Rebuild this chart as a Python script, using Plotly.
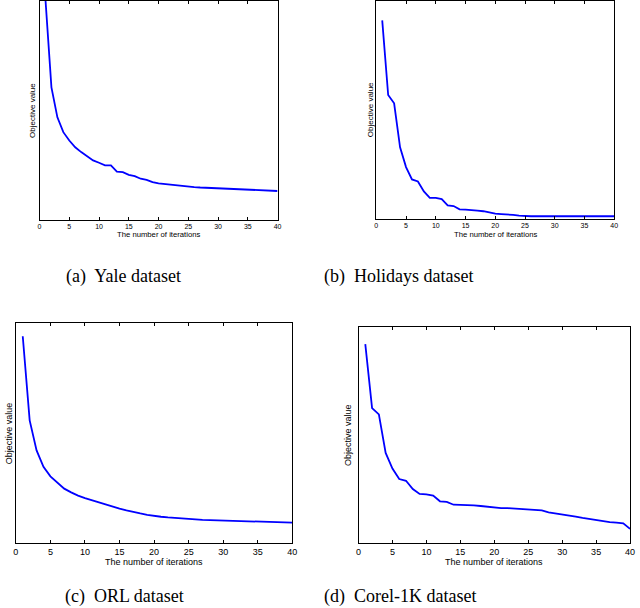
import plotly.graph_objects as go

iterations = list(range(1, 41))

yale_values = [100.5, 60.5, 46.8, 40.0, 36.2, 33.1, 30.9, 29.0, 27.1, 26.0,
               24.8, 24.8, 22.0, 21.7, 20.5, 19.9, 18.7, 18.2, 17.2, 16.6,
               16.3, 15.8, 15.5, 15.3, 15.0, 14.9, 14.7, 14.6, 14.4, 14.1,
               14.1, 14.0, 14.0, 13.8, 13.8, 13.7, 13.5, 13.4, 13.2, 13.1]

holidays_values = [91.1, 56.8, 53.0, 32.8, 23.7, 18.0, 17.1, 12.5, 9.6, 9.5,
                   9.0, 6.1, 5.8, 4.3, 4.1, 4.0, 3.7, 3.4, 2.7, 2.3,
                   2.1, 2.0, 1.7, 1.4, 1.1, 1.1, 1.1, 1.1, 1.1, 1.1,
                   1.1, 1.1, 1.1, 1.1, 1.1, 1.1, 1.1, 1.1, 1.1, 1.1]

orl_values = [94.2, 55.9, 42.2, 34.7, 30.4, 27.4, 24.8, 23.1, 21.6, 20.5,
              19.5, 18.5, 17.6, 16.7, 15.7, 14.9, 14.1, 13.5, 12.9, 12.3,
              12.0, 11.7, 11.4, 11.1, 10.9, 10.8, 10.6, 10.5, 10.5, 10.3,
              10.2, 10.2, 10.0, 10.0, 9.9, 9.9, 9.7, 9.6, 9.4, 9.3]

corel_values = [92.3, 62.6, 59.7, 41.8, 34.6, 29.7, 28.9, 25.1, 22.8, 22.6,
                22.0, 19.4, 19.1, 17.8, 17.7, 17.7, 17.5, 17.2, 16.9, 16.3,
                16.2, 16.2, 16.0, 15.8, 15.5, 15.4, 15.2, 14.3, 13.8, 13.5,
                13.1, 12.3, 11.7, 11.2, 10.6, 10.2, 9.7, 9.5, 9.2, 6.6]

x_ticks = [0, 5, 10, 15, 20, 25, 30, 35, 40]
captions = ["(a)  Yale dataset", "(b)  Holidays dataset",
            "(c)  ORL dataset", "(d)  Corel-1K dataset"]
x_title = "The number of iterations"
y_title = "Objective value"

W, H = 640, 608
# panel boxes in pixels: left, right, top, bottom
boxes = [(37, 278, 0, 219), (378, 619, 0, 218), (13, 293, 323, 543), (360, 635, 327, 543)]
series = [yale_values, holidays_values, orl_values, corel_values]
tick_sizes = [7, 7, 9, 9]
title_sizes = [7.7, 7.7, 9, 9]
ytitle_sizes = [8, 8, 9, 9]
cap_pos = [(122, 276), (401, 276), (123, 596), (402, 596)]
ytitle_x = [30, 372, 6, 350]
xtitle_gap = [15, 16, 19, 19]

fig = go.Figure()
annotations = []
for i, (vals, box) in enumerate(zip(series, boxes)):
    l, r, t, b = box
    sfx = "" if i == 0 else str(i + 1)
    fig.add_trace(go.Scatter(x=iterations, y=vals, mode="lines",
                             line=dict(color="#0000ff", width=1.8),
                             xaxis="x" + sfx, yaxis="y" + sfx, showlegend=False))
    fig.layout["xaxis" + sfx] = dict(
        domain=[l / W, r / W], anchor="y" + sfx, range=[0, 40],
        tickvals=x_ticks, ticks="inside", ticklen=3, tickcolor="black",
        showline=True, linecolor="black", linewidth=1, mirror="ticks",
        showgrid=False, zeroline=False,
        tickfont=dict(family="Liberation Sans", size=tick_sizes[i], color="black"),
    )
    fig.layout["yaxis" + sfx] = dict(
        domain=[1 - b / H, 1 - t / H], anchor="x" + sfx, range=[0, 100],
        showticklabels=False, ticks="", showline=True, linecolor="black",
        linewidth=1, mirror=True, showgrid=False, zeroline=False,
    )
    annotations.append(dict(text=x_title, xref="paper", yref="paper",
                            x=(l + r) / 2 / W, y=1 - (b + xtitle_gap[i]) / H,
                            showarrow=False, xanchor="center", yanchor="middle",
                            font=dict(family="Liberation Sans", size=title_sizes[i], color="black")))
    annotations.append(dict(text=y_title, xref="paper", yref="paper",
                            x=ytitle_x[i] / W, y=1 - (t + b) / 2 / H, textangle=-90,
                            showarrow=False, xanchor="center", yanchor="middle",
                            font=dict(family="Liberation Sans", size=ytitle_sizes[i], color="black")))
    cx, cy = cap_pos[i]
    annotations.append(dict(text=captions[i], xref="paper", yref="paper",
                            x=cx / W, y=1 - cy / H, showarrow=False,
                            xanchor="center", yanchor="middle",
                            font=dict(family="Liberation Serif", size=18, color="black")))

fig.update_layout(width=W, height=H, margin=dict(l=0, r=0, t=0, b=0),
                  paper_bgcolor="white", plot_bgcolor="white",
                  annotations=annotations)
fig.write_html("out.html", config={"displayModeBar": False},
               post_script="document.body.style.margin='0';document.body.style.overflow='hidden';")
